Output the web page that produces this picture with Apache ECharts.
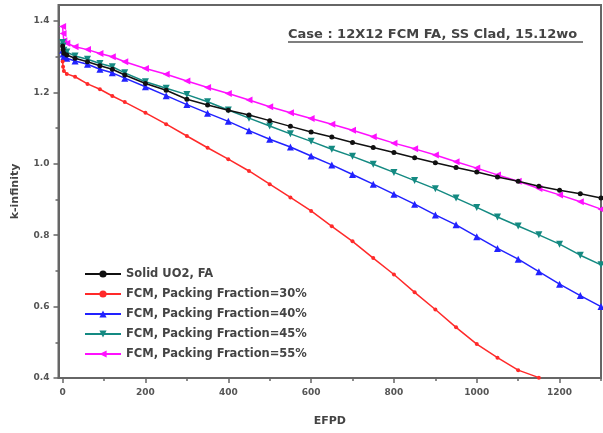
<!DOCTYPE html>
<html><head><meta charset="utf-8">
<script src="https://cdn.jsdelivr.net/npm/echarts@6/dist/echarts.min.js"></script>
<style>html,body{margin:0;padding:0;background:#fff}#c{width:603px;height:433px}</style>
</head><body><div id="c"></div>
<script>
const efpd = [0,1,3,10,30,60,90,120,150,200,250,300,350,400,450,500,550,600,650,700,750,800,850,900,950,1000,1050,1100,1150,1200,1250,1300];
const seriesNames = ["Solid UO2, FA","FCM, Packing Fraction=30%","FCM, Packing Fraction=40%","FCM, Packing Fraction=45%","FCM, Packing Fraction=55%"];
const solidUO2 = [1.330,1.320,1.310,1.305,1.296,1.286,1.275,1.265,1.249,1.225,1.206,1.181,1.165,1.150,1.137,1.121,1.105,1.089,1.075,1.060,1.046,1.032,1.017,1.003,0.990,0.977,0.963,0.951,0.937,0.926,0.916,0.904];
const pf30 = [1.287,1.272,1.260,1.252,1.244,1.224,1.209,1.190,1.173,1.143,1.111,1.078,1.045,1.013,0.980,0.943,0.906,0.868,0.825,0.783,0.736,0.690,0.640,0.592,0.542,0.495,0.457,0.422,0.401];
const pf40 = [1.318,1.308,1.300,1.296,1.288,1.279,1.265,1.255,1.240,1.216,1.191,1.166,1.142,1.119,1.093,1.069,1.047,1.022,0.997,0.970,0.943,0.915,0.887,0.857,0.829,0.796,0.763,0.733,0.698,0.663,0.631,0.600];
const pf45 = [1.340,1.330,1.318,1.313,1.302,1.293,1.281,1.272,1.255,1.230,1.212,1.194,1.174,1.151,1.128,1.106,1.084,1.063,1.041,1.021,0.999,0.976,0.953,0.930,0.904,0.878,0.851,0.826,0.801,0.775,0.744,0.717];
const pf55 = [1.385,1.365,1.345,1.338,1.328,1.320,1.309,1.300,1.286,1.267,1.251,1.232,1.214,1.197,1.179,1.160,1.143,1.127,1.111,1.094,1.076,1.058,1.042,1.025,1.006,0.988,0.969,0.951,0.931,0.913,0.894,0.873];
const xMajorTicks = [0,200,400,600,800,1000,1200];
const xMinorTicks = [100,300,500,700,900,1100,1300];
const yMajorTicks = [0.4,0.6,0.8,1.0,1.2,1.4];
const yMinorTicks = [0.5,0.7,0.9,1.1,1.3];
const titleText = "Case : 12X12 FCM FA, SS Clad, 15.12wo";

const pairs = (xs, ys) => ys.map((v, i) => [xs[i], v]);
const axisColor = '#666';
const labelStyle = {color:'#555', fontSize:9, fontFamily:'DejaVu Sans', fontWeight:'bold'};

const chart = echarts.init(document.getElementById('c'), null, {renderer:'canvas'});
const styles = [
  {color:'#111111', symbol:'circle', size:5, rotate:0},
  {color:'#ff2a2a', symbol:'circle', size:4, rotate:0},
  {color:'#2222ff', symbol:'triangle', size:7, rotate:0},
  {color:'#148a82', symbol:'triangle', size:7, rotate:180},
  {color:'#ff10ff', symbol:'triangle', size:7, rotate:90}
];
const datas = [solidUO2, pf30, pf40, pf45, pf55];
const series = datas.map((d, i) => ({
  name: seriesNames[i], type:'line', xAxisIndex:0, yAxisIndex:0,
  data: pairs(efpd, d),
  symbol: styles[i].symbol, symbolSize: styles[i].size, symbolRotate: styles[i].rotate,
  showAllSymbol: true,
  lineStyle:{color:styles[i].color, width:1.5},
  itemStyle:{color:styles[i].color},
  clip:true, animation:false, z: 10 - i
}));

chart.setOption({
  animation:false,
  grid:{left:58.5, right:2, top:5, bottom:55, show:true, borderColor:axisColor, borderWidth:2},
  xAxis:[{
    type:'value', min:-10, max:1300, position:'bottom',
    name:'EFPD', nameLocation:'middle', nameGap:38,
    nameTextStyle:{color:'#444', fontSize:11, fontFamily:'DejaVu Sans', fontWeight:'bold'},
    axisLine:{show:true, onZero:false, lineStyle:{color:axisColor, width:2}},
    axisTick:{show:true, customValues:xMajorTicks, length:5, lineStyle:{color:axisColor, width:1.5}},
    axisLabel:{customValues:xMajorTicks, margin:10, formatter:v=>String(Math.round(v)), ...labelStyle},
    splitLine:{show:false}
  },{
    type:'value', min:-10, max:1300, position:'bottom', offset:0,
    axisLine:{show:false, onZero:false},
    axisTick:{show:true, customValues:xMinorTicks, length:3, lineStyle:{color:axisColor, width:1.5}},
    axisLabel:{show:false}, splitLine:{show:false}
  }],
  yAxis:[{
    type:'value', min:0.4, max:1.445, position:'left',
    name:'k-infinity', nameLocation:'middle', nameGap:38,
    nameTextStyle:{color:'#444', fontSize:11, fontFamily:'DejaVu Sans', fontWeight:'bold'},
    axisLine:{show:true, onZero:false, lineStyle:{color:axisColor, width:2}},
    axisTick:{show:true, customValues:yMajorTicks, length:5, lineStyle:{color:axisColor, width:1.5}},
    axisLabel:{customValues:yMajorTicks, margin:9, formatter:v=>Number(v).toFixed(1), ...labelStyle},
    splitLine:{show:false}
  },{
    type:'value', min:0.4, max:1.445, position:'left', offset:0,
    axisLine:{show:false, onZero:false},
    axisTick:{show:true, customValues:yMinorTicks, length:3, lineStyle:{color:axisColor, width:1.5}},
    axisLabel:{show:false}, splitLine:{show:false}
  }],
  legend:{
    orient:'vertical', left:79, top:263, itemWidth:36, itemHeight:9, itemGap:8,
    data: seriesNames,
    textStyle:{color:'#444', fontSize:11.5, fontFamily:'DejaVu Sans', fontWeight:'bold'},
    itemStyle:{borderWidth:0}
  },
  graphic:[
    {type:'text', left:288, top:28, style:{text:titleText, fill:'#444', font:'bold 13px "DejaVu Sans"'}},
    {type:'line', shape:{x1:288, y1:42, x2:583, y2:42}, style:{stroke:'#555', lineWidth:1.5}}
  ],
  series: series
});
</script></body></html>
